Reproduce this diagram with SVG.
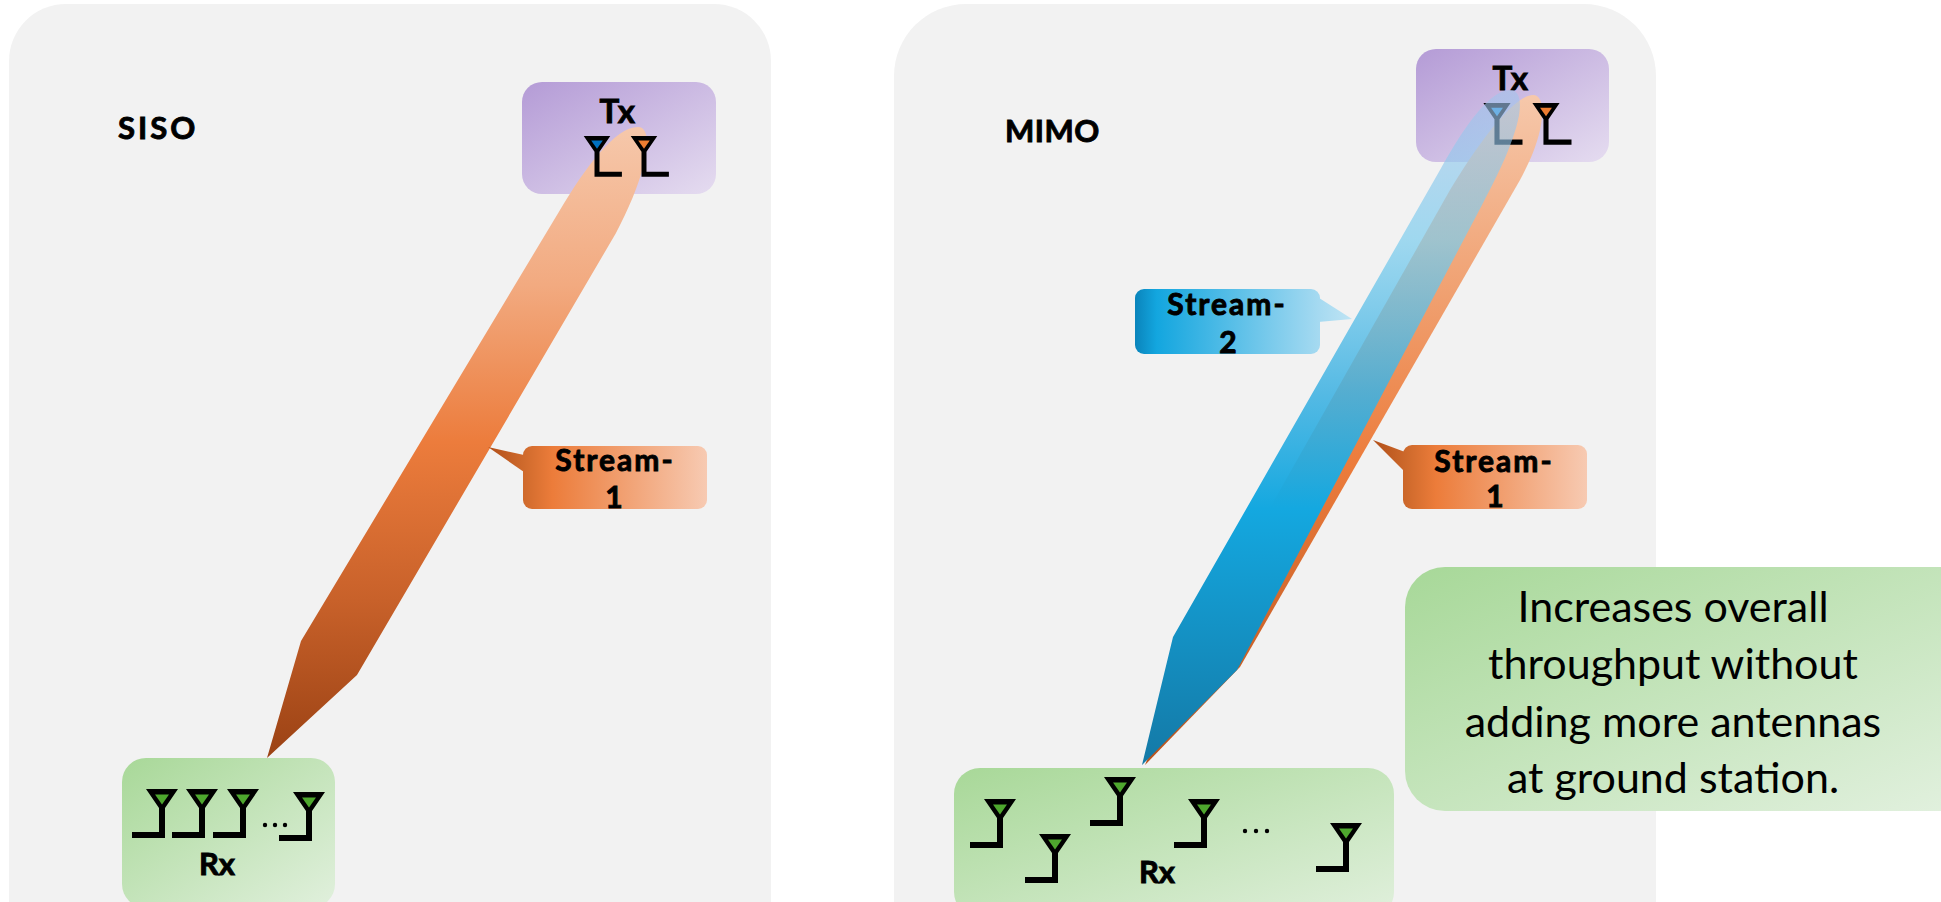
<svg xmlns="http://www.w3.org/2000/svg" xmlns:xlink="http://www.w3.org/1999/xlink" width="1941" height="902" viewBox="0 0 1941 902">
  <style>
    .panel { fill: #f2f2f2; }
    .title { font-family: Lato, "Open Sans", "Liberation Sans", sans-serif; font-weight: 700; font-size: 31px; fill: #000; stroke: #000; stroke-width: 0.9px; }
    .lbl { font-family: Lato, "Open Sans", "Liberation Sans", sans-serif; font-weight: 700; font-size: 30px; fill: #000; stroke: #000; stroke-width: 0.9px; text-anchor: middle; }
    .note { font-family: Lato, "Open Sans", "Liberation Sans", sans-serif; font-weight: 400; font-size: 43px; fill: #000; text-anchor: middle; }
  </style>
  <defs>
    <!-- antenna: funnel + stem + foot (foot to the left); inner triangle takes the fill of the <use> -->
    <g id="antenna">
      <path d="M-16,0 H16 L3,19 V49 H-30 V43 H-3 V19 Z" fill="#000"/>
      <path d="M-7,5.5 H7 L0,15.5 Z"/>
    </g>
    <linearGradient id="gTx" x1="0" y1="0" x2="1" y2="1">
      <stop offset="0" stop-color="#b49bd6"/>
      <stop offset="1" stop-color="#e5dcf0"/>
    </linearGradient>
    <linearGradient id="gRx" x1="0" y1="0" x2="1" y2="1">
      <stop offset="0" stop-color="#a8d898"/>
      <stop offset="1" stop-color="#e1f0dd"/>
    </linearGradient>
    <linearGradient id="gNote" x1="0" y1="0" x2="1" y2="1">
      <stop offset="0" stop-color="#a7d898"/>
      <stop offset="1" stop-color="#e3f1e0"/>
    </linearGradient>
    <linearGradient id="gBeamSiso" gradientUnits="userSpaceOnUse" x1="0" y1="127" x2="0" y2="758">
      <stop offset="0" stop-color="#f6c8ab"/>
      <stop offset="0.25" stop-color="#f2aa80"/>
      <stop offset="0.5" stop-color="#ec7c3c"/>
      <stop offset="0.75" stop-color="#c8612a"/>
      <stop offset="1" stop-color="#9b4214"/>
    </linearGradient>
    <linearGradient id="gBeamOrange" gradientUnits="userSpaceOnUse" x1="0" y1="95" x2="0" y2="765">
      <stop offset="0" stop-color="#f6c8ab"/>
      <stop offset="0.3" stop-color="#f0a070"/>
      <stop offset="0.55" stop-color="#ec7c3c"/>
      <stop offset="1" stop-color="#b8521c"/>
    </linearGradient>
    <linearGradient id="gBeamBlue" gradientUnits="userSpaceOnUse" x1="0" y1="90" x2="0" y2="765">
      <stop offset="0" stop-color="#a3c4ec" stop-opacity="0.6"/>
      <stop offset="0.22" stop-color="#7ccdee" stop-opacity="0.7"/>
      <stop offset="0.45" stop-color="#3fb2e2" stop-opacity="0.88"/>
      <stop offset="0.62" stop-color="#14a8e0" stop-opacity="1"/>
      <stop offset="1" stop-color="#1479a6" stop-opacity="1"/>
    </linearGradient>
    <linearGradient id="gCallOrangeL" gradientUnits="userSpaceOnUse" x1="486" y1="0" x2="707" y2="0">
      <stop offset="0" stop-color="#b04e18"/>
      <stop offset="0.17" stop-color="#cf6a2c"/>
      <stop offset="0.3" stop-color="#ec7c3a"/>
      <stop offset="1" stop-color="#f7cab2"/>
    </linearGradient>
    <linearGradient id="gCallOrangeR" gradientUnits="userSpaceOnUse" x1="1371" y1="0" x2="1587" y2="0">
      <stop offset="0" stop-color="#b04e18"/>
      <stop offset="0.17" stop-color="#cf6a2c"/>
      <stop offset="0.3" stop-color="#ec7c3a"/>
      <stop offset="1" stop-color="#f7cab2"/>
    </linearGradient>
    <linearGradient id="gCallBlue" gradientUnits="userSpaceOnUse" x1="1135" y1="0" x2="1352" y2="0">
      <stop offset="0" stop-color="#0a84bb"/>
      <stop offset="0.1" stop-color="#13a6df"/>
      <stop offset="0.85" stop-color="#a6daf1"/>
      <stop offset="1" stop-color="#bfe4f4"/>
    </linearGradient>
  </defs>

  <rect width="1941" height="902" fill="#ffffff"/>

  <!-- SISO panel -->
  <g id="panel-siso">
    <rect class="panel" x="9" y="4" width="762" height="1000" rx="57" ry="57"/>
    <text class="title" x="118" y="139" letter-spacing="3">SISO</text>
  </g>

  <!-- MIMO panel -->
  <g id="panel-mimo">
    <rect class="panel" x="894" y="4" width="762" height="1000" rx="72" ry="72"/>
    <text class="title" x="1005" y="142" letter-spacing="0.5">MIMO</text>
  </g>

  <!-- SISO transmitter -->
  <g id="siso-tx">
    <rect x="522" y="82" width="194" height="112" rx="20" fill="url(#gTx)"/>
    <text class="lbl" x="618" y="123" style="font-size:33px" letter-spacing="1.5">Tx</text>
  </g>

  <!-- SISO receiver -->
  <g id="siso-rx">
    <rect x="122" y="758" width="213" height="150" rx="24" fill="url(#gRx)"/>
    <use href="#antenna" x="162" y="789" fill="#4ea72e"/>
    <use href="#antenna" x="202" y="789" fill="#4ea72e"/>
    <use href="#antenna" x="243" y="789" fill="#4ea72e"/>
    <circle cx="265" cy="825" r="2.2"/>
    <circle cx="275" cy="825" r="2.2"/>
    <circle cx="285" cy="825" r="2.2"/>
    <use href="#antenna" x="309" y="792" fill="#4ea72e"/>
    <text class="lbl" x="217" y="875" style="font-size:31px">Rx</text>
  </g>

  <!-- MIMO transmitter box -->
  <g id="mimo-tx">
    <rect x="1416" y="49" width="193" height="113" rx="20" fill="url(#gTx)"/>
    <text class="lbl" x="1511" y="90" style="font-size:33px" letter-spacing="1.5">Tx</text>
  </g>

  <!-- MIMO receiver -->
  <g id="mimo-rx">
    <rect x="954" y="768" width="440" height="150" rx="26" fill="url(#gRx)"/>
    <use href="#antenna" x="1000" y="799" fill="#4ea72e"/>
    <use href="#antenna" x="1055" y="834" fill="#4ea72e"/>
    <use href="#antenna" x="1120" y="777" fill="#4ea72e"/>
    <use href="#antenna" x="1204" y="799" fill="#4ea72e"/>
    <circle cx="1245" cy="831" r="2.2"/>
    <circle cx="1256" cy="831" r="2.2"/>
    <circle cx="1267" cy="831" r="2.2"/>
    <use href="#antenna" x="1346" y="823" fill="#4ea72e"/>
    <text class="lbl" x="1157" y="883" style="font-size:31px">Rx</text>
  </g>

  <!-- streams (beams) -->
  <g id="connectors">
    <!-- SISO single stream -->
    <path id="siso-stream" d="M638,127 C648,127 649,143 644,163 C639,185 628,210 616,233 L357,675 L267,758 L301,641 L560,210 C585,168 615,127 638,127 Z" fill="url(#gBeamSiso)"/>
    <!-- MIMO stream 1 -->
    <path id="mimo-stream-1" d="M1533,95 C1543,95 1544,112 1540,130 C1536,148 1528,165 1520,180 L1240,667 L1145,765 L1195,640 L1450,190 C1480,140 1515,95 1533,95 Z" fill="url(#gBeamOrange)"/>
  </g>

  <!-- Tx antennas drawn over the beams -->
  <g id="siso-tx-antennas">
    <use href="#antenna" transform="translate(597,136) scale(-0.83,0.83)" fill="#0070c0"/>
    <use href="#antenna" transform="translate(644,136) scale(-0.83,0.83)" fill="#ed7d31"/>
  </g>
  <g id="mimo-tx-antennas">
    <use href="#antenna" transform="translate(1497,103) scale(-0.85,0.85)" fill="#1f8fd8"/>
    <use href="#antenna" transform="translate(1546,103) scale(-0.85,0.85)" fill="#ed7d31"/>
  </g>

  <g id="connectors-top">
    <!-- MIMO stream 2, translucent near the transmitter -->
    <path id="mimo-stream-2" d="M1510,90 C1522,90 1522,108 1516,128 C1508,155 1495,180 1482,205 L1237,670 L1142,765 L1173,637 L1440,170 C1465,125 1490,90 1510,90 Z" fill="url(#gBeamBlue)"/>
  </g>

  <!-- callouts -->
  <g id="callout-siso-stream-1">
    <polygon points="524,455 488,447 524,472" fill="url(#gCallOrangeL)"/>
    <rect x="523" y="446" width="184" height="63" rx="9" fill="url(#gCallOrangeL)"/>
    <text class="lbl" x="615" y="471" letter-spacing="2">Stream-</text>
    <text class="lbl" x="614" y="508">1</text>
  </g>
  <g id="callout-mimo-stream-2">
    <polygon points="1316,296 1352,319 1318,322" fill="url(#gCallBlue)"/>
    <rect x="1135" y="289" width="185" height="65" rx="9" fill="url(#gCallBlue)"/>
    <text class="lbl" x="1227" y="315" letter-spacing="2">Stream-</text>
    <text class="lbl" x="1228" y="353">2</text>
  </g>
  <g id="callout-mimo-stream-1">
    <polygon points="1405,452 1373,440 1405,472" fill="url(#gCallOrangeR)"/>
    <rect x="1403" y="445" width="184" height="64" rx="9" fill="url(#gCallOrangeR)"/>
    <text class="lbl" x="1494" y="472" letter-spacing="2">Stream-</text>
    <text class="lbl" x="1495" y="507">1</text>
  </g>

  <!-- summary note -->
  <g id="note">
    <rect x="1405" y="567" width="580" height="244" rx="40" fill="url(#gNote)"/>
    <text class="note" x="1673" y="622">Increases overall</text>
    <text class="note" x="1673" y="679">throughput without</text>
    <text class="note" x="1673" y="737">adding more antennas</text>
    <text class="note" x="1673" y="793">at ground station.</text>
  </g>
</svg>
